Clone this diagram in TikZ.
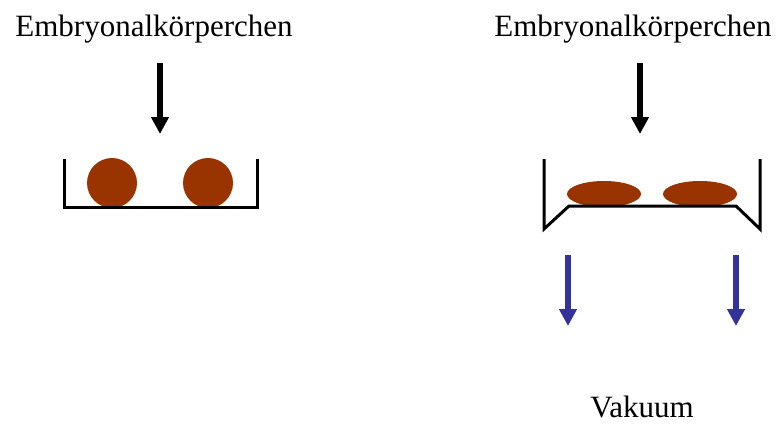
\documentclass[tikz,border=0pt]{standalone}
\usepackage{fontspec}
\setmainfont{Liberation Serif}
\usetikzlibrary{arrows.meta,shapes.geometric}
\definecolor{embryo}{HTML}{993300}
\definecolor{vacblue}{HTML}{333399}
\tikzset{
  label text/.style={font=\fontsize{31}{36}\selectfont, anchor=base, inner sep=0pt},
  bigarrow/.style={line width=6pt, -{Triangle[length=17pt,width=17pt]}},
  dish/.style={line width=3pt, line join=miter},
  roundembryo/.style={circle, fill=embryo, minimum size=50pt, inner sep=0pt},
  flatembryo/.style={ellipse, fill=embryo, minimum width=74pt, minimum height=26pt, inner sep=0pt},
}
\begin{document}
\begin{tikzpicture}[x=1pt,y=-1pt]
\useasboundingbox (0,0) rectangle (778,425);
% texts
\node[label text] (tl) at (154,37) {Embryonalkörperchen};
\node[label text] (tr) at (633,37) {Embryonalkörperchen};
\node[label text] (vac) at (642,417) {Vakuum};
% left dish
\node[roundembryo] (e1) at (112,183) {};
\node[roundembryo] (e2) at (208,183) {};
\draw[dish] (64,159) -- (64,207) -- (257,207) -- (257,159);
% right dish
\node[flatembryo] (f1) at (604,194) {};
\node[flatembryo] (f2) at (700,194) {};
\draw[dish] (544,159) -- (544,229) -- (569,206) -- (736,206) -- (760,229) -- (760,159);
% black arrows
\coordinate (a1s) at (160,63); \coordinate (a1e) at (160,134);
\coordinate (a2s) at (640,63); \coordinate (a2e) at (640,134);
\draw[bigarrow] (a1s) -- (a1e);
\draw[bigarrow] (a2s) -- (a2e);
% blue arrows
\coordinate (b1s) at (568,255); \coordinate (b1e) at (568,326);
\coordinate (b2s) at (736,255); \coordinate (b2e) at (736,326);
\draw[bigarrow, vacblue] (b1s) -- (b1e);
\draw[bigarrow, vacblue] (b2s) -- (b2e);
\end{tikzpicture}
\end{document}
